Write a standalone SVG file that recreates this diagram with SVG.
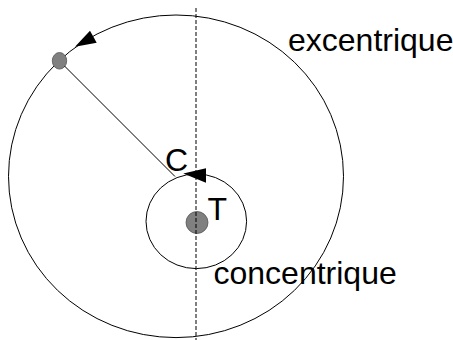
<svg xmlns="http://www.w3.org/2000/svg" width="453" height="340" viewBox="0 0 453 340">
<style>
.orbit{fill:none;stroke:#000;stroke-width:1}
.dot{fill:#808080;stroke:#555;stroke-width:0.8}
.lbl{font-family:"Liberation Sans",Arial,sans-serif;font-size:32px;fill:#000}
.head{fill:#000;stroke:none}
</style>
<rect width="453" height="340" fill="#fff"/>
<g id="excentric-circle">
<ellipse class="orbit" cx="176" cy="176.3" rx="167.5" ry="161.3"/>
<text class="lbl" x="288" y="50.5">excentrique</text>
</g>
<g id="concentric-circle">
<ellipse class="orbit" cx="196.3" cy="221.3" rx="50.3" ry="47.3"/>
<text class="lbl" x="213.5" y="283.5">concentrique</text>
</g>
<g id="earth">
<circle class="dot" cx="197" cy="222.5" r="11"/>
<text class="lbl" x="207.5" y="220">T</text>
</g>
<g id="planet">
<ellipse class="dot" cx="59.5" cy="60.8" rx="7.2" ry="8.3"/>
</g>
<g id="center-c">
<text class="lbl" x="165" y="170.5">C</text>
</g>
<g id="connectors">
<line x1="196" y1="8" x2="196" y2="340" stroke="#000" stroke-width="1" stroke-dasharray="4,2"/>
<line x1="64.5" y1="66" x2="175" y2="176.5" stroke="#000" stroke-width="1"/>
<polygon class="head" points="75,46.7 90,30.7 96.7,42.7"/>
<polygon class="head" points="183.3,173.5 206,168.3 206,182.7"/>
</g>
</svg>
